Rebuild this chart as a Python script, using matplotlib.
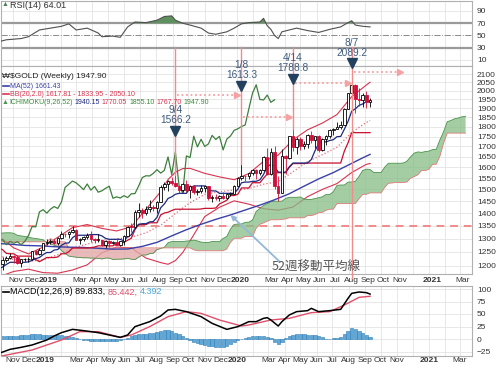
import numpy as np
import pandas as pd
import matplotlib
matplotlib.use('Agg')
import matplotlib.pyplot as plt
import matplotlib.dates as mdates
import matplotlib.transforms as mtransforms
from matplotlib.patches import Rectangle
from matplotlib.ticker import FixedLocator, NullLocator, NullFormatter

plt.rcParams['font.family'] = ['Liberation Sans', 'DejaVu Sans']

# weekly bars (week ending Friday) and the 26-week forward span of the cloud
weeks = pd.date_range('2018-10-05', periods=102, freq='7D')
cloud_weeks = pd.date_range('2018-10-05', periods=128, freq='7D')

opens = [1192, 1207, 1222, 1229, 1236, 1233, 1210, 1223, 1223, 1223,
         1252, 1241, 1258, 1283, 1286, 1290, 1283, 1303, 1318, 1317,
         1324, 1331, 1296, 1299, 1305, 1315, 1297, 1295, 1295, 1277,
         1289, 1282, 1288, 1277, 1289, 1311, 1346, 1345, 1405, 1414,
         1400, 1416, 1427, 1419, 1447, 1509, 1523, 1537, 1529, 1515,
         1499, 1524, 1497, 1513, 1488, 1494, 1505, 1514, 1462, 1468,
         1463, 1473, 1465, 1481, 1482, 1515, 1553, 1561, 1560, 1572,
         1589, 1573, 1586, 1649, 1567, 1673, 1516, 1485, 1654, 1646,
         1752, 1698, 1736, 1700, 1713, 1756, 1735, 1751, 1683, 1737,
         1753, 1782, 1790, 1802, 1810, 1897, 1986, 2035, 1950, 1947,
         1975, 1934]
highs = [1210, 1233, 1236, 1246, 1239, 1239, 1226, 1230, 1233, 1253,
         1256, 1264, 1285, 1300, 1298, 1297, 1304, 1327, 1322, 1327,
         1349, 1335, 1303, 1311, 1322, 1328, 1301, 1316, 1296, 1293,
         1293, 1292, 1303, 1290, 1313, 1349, 1362, 1411, 1442, 1420,
         1428, 1456, 1433, 1452, 1519, 1535, 1541, 1555, 1566.2, 1518,
         1527, 1541, 1520, 1519, 1500, 1518, 1520, 1516, 1476, 1480,
         1474, 1488, 1484, 1487, 1519, 1556, 1613.3, 1564, 1574, 1591,
         1592, 1590, 1654, 1691, 1692, 1704, 1560, 1690, 1660, 1753,
         1788.8, 1750, 1747, 1725, 1764, 1780, 1755, 1758, 1745, 1758,
         1788, 1796, 1827, 1829, 1904, 1986, 2089.2, 2040, 2015, 1985,
         2001, 1960]
lows = [1183, 1187, 1213, 1225, 1211, 1208, 1196, 1216, 1214, 1222,
        1238, 1240, 1257, 1276, 1281, 1280, 1276, 1300, 1304, 1302,
        1320, 1294, 1281, 1290, 1297, 1286, 1283, 1286, 1271, 1266,
        1268, 1278, 1275, 1273, 1276, 1310, 1325, 1341, 1385, 1381,
        1392, 1405, 1410, 1400, 1447, 1496, 1495, 1518, 1510, 1484,
        1491, 1488, 1465, 1481, 1476, 1483, 1490, 1456, 1446.2, 1456,
        1452, 1460, 1459, 1472, 1480, 1514, 1542, 1536, 1548, 1566,
        1548, 1565, 1584, 1565, 1566, 1504, 1450.9, 1484, 1568, 1641,
        1679, 1665, 1684, 1687, 1691, 1719, 1693, 1672, 1680, 1706,
        1744, 1760, 1787, 1791, 1808, 1896, 1966, 1874, 1911, 1909,
        1903, 1906]
closes = [1207, 1222, 1229, 1236, 1233, 1210, 1223, 1223, 1223, 1252,
          1241, 1258, 1283, 1286, 1290, 1283, 1303, 1318, 1317, 1324,
          1331, 1296, 1299, 1305, 1315, 1297, 1295, 1295, 1277, 1289,
          1282, 1288, 1277, 1289, 1311, 1346, 1345, 1405, 1414, 1400,
          1416, 1427, 1419, 1447, 1509, 1523, 1537, 1529, 1515, 1499,
          1524, 1497, 1513, 1488, 1494, 1505, 1514, 1462, 1468, 1463,
          1473, 1465, 1481, 1482, 1515, 1553, 1561, 1560, 1572, 1589,
          1573, 1586, 1649, 1567, 1673, 1516, 1485, 1654, 1646, 1752,
          1698, 1736, 1700, 1713, 1756, 1735, 1751, 1683, 1737, 1753,
          1782, 1790, 1802, 1810, 1897, 1986, 2035, 1950, 1947, 1975,
          1934, 1947.9]

# MA(52), read at a few weeks
ma_idx = [0, 3, 7, 11, 15, 19, 23, 27, 31, 35, 39, 43, 47, 51, 55, 59, 63, 67,
          71, 75, 79, 83, 87, 91, 95, 99, 101]
ma_val = [1281, 1278.8, 1274.1, 1272.6, 1269.5, 1267.7, 1266.5, 1263.5, 1260.4,
          1260.9, 1270.6, 1285.6, 1310.0, 1333.8, 1355.1, 1374.7, 1392.5, 1412.6,
          1432.9, 1455.5, 1481.2, 1514.1, 1546.8, 1575.6, 1609.9, 1644.7, 1661.43]

# Bollinger bands (20, 2.0)
bb_idx = [0, 4, 8, 12, 16, 20, 24, 28, 32, 36, 40, 44, 46, 48, 50, 52, 56, 60, 64,
          68, 72, 76, 80, 84, 88, 92, 96, 100, 101]
bb_mid = [1236, 1223, 1216, 1222, 1240, 1264, 1279, 1293, 1298, 1305, 1322, 1351,
          1375, 1398, 1421, 1443, 1479, 1490, 1497, 1504, 1523, 1535, 1579, 1627,
          1660, 1696, 1771, 1824, 1833.95]
bb_up = [1309, 1265, 1243, 1268, 1305, 1342, 1354, 1339, 1329, 1345, 1416, 1490,
         1544, 1577, 1594, 1595, 1572, 1556, 1543, 1571, 1628, 1658, 1733, 1785,
         1820, 1866, 1966, 2034, 2050.10]
bb_lo = [1163, 1181, 1189, 1177, 1175, 1186, 1204, 1247, 1268, 1265, 1228, 1212,
         1206, 1219, 1248, 1291, 1386, 1424, 1451, 1437, 1418, 1412, 1425, 1469,
         1500, 1526, 1576, 1614, 1617.81]

# Ichimoku (9, 26, 52)
tenkan = [1191, 1196.5, 1205.5, 1213, 1213, 1213, 1213, 1213, 1214.5, 1220,
          1226, 1230, 1240.5, 1248, 1248, 1257, 1259, 1274.5, 1282.5, 1283.5,
          1303, 1312.5, 1312.5, 1312.5, 1312.5, 1315, 1315, 1315, 1310, 1300.5,
          1297, 1297, 1297, 1297, 1291, 1307.5, 1314, 1338.5, 1355, 1357.5,
          1357.5, 1364.5, 1366, 1383, 1422, 1438, 1461, 1468, 1479, 1483,
          1483, 1483, 1505.5, 1515.5, 1515.5, 1515.5, 1515.5, 1498.5, 1493.5, 1493.5,
          1483, 1483, 1483, 1483, 1483, 1501, 1529.5, 1532.5, 1532.5, 1536,
          1536, 1542.5, 1567, 1602.5, 1614, 1604, 1577.5, 1577.5, 1577.5, 1602,
          1620, 1620, 1620, 1620, 1620, 1636.5, 1678.5, 1715, 1727, 1722.5,
          1730, 1734, 1749.5, 1750.5, 1788, 1829, 1884.5, 1897.5, 1916.5, 1924.5,
          1938, 1940.15]
kijun = [1264.5, 1258, 1245, 1243.5, 1243.5, 1235, 1235, 1235, 1235, 1234.5,
         1222.5, 1215, 1222.5, 1230, 1230, 1230, 1232, 1243.5, 1243.5, 1251,
         1264.5, 1264.5, 1264.5, 1264.5, 1264.5, 1266, 1268, 1272.5, 1272.5, 1272.5,
         1272.5, 1272.5, 1281.5, 1281.5, 1285.5, 1293.5, 1301, 1334, 1354, 1354,
         1354, 1361, 1361, 1361, 1392.5, 1400.5, 1403.5, 1410.5, 1416, 1416,
         1416, 1416, 1416, 1416, 1416, 1417, 1419.5, 1419.5, 1419.5, 1421,
         1438, 1445.5, 1453.5, 1473.5, 1473.5, 1479, 1506.5, 1506.5, 1506.5, 1530,
         1529.5, 1529.5, 1550, 1568.5, 1569, 1575, 1575, 1575, 1575, 1599.5,
         1617.5, 1617.5, 1617.5, 1617.5, 1620, 1620, 1620, 1620, 1620, 1620,
         1620, 1620, 1620, 1620, 1677.5, 1718.5, 1770, 1770, 1770, 1770,
         1770, 1770.05]
span_a = [1320, 1321, 1322, 1322, 1320, 1312, 1310, 1308, 1305, 1302,
          1300, 1298, 1295, 1285, 1280, 1275, 1270, 1255, 1245, 1235,
          1233, 1231, 1230, 1229, 1229, 1228, 1227.75, 1227, 1225, 1228,
          1228, 1223, 1224, 1224, 1225, 1227, 1224, 1222.5, 1231.5, 1239,
          1239, 1244, 1245.5, 1259, 1263, 1267, 1284, 1288.5, 1288.5, 1288.5,
          1288.5, 1290.5, 1291.5, 1294, 1291, 1286.5, 1285, 1285, 1289, 1289,
          1288, 1300.5, 1307.5, 1336, 1354.5, 1356, 1356, 1363, 1363.5, 1372,
          1407, 1419, 1432, 1439, 1447.5, 1449.5, 1449.5, 1449.5, 1461, 1466,
          1466, 1466, 1467.5, 1459, 1456.5, 1457, 1460.5, 1464, 1468, 1478,
          1478, 1490, 1518, 1519.5, 1519.5, 1532.5, 1533, 1536, 1558.5, 1585.5,
          1591.5, 1589.5, 1576, 1576, 1576, 1601, 1619, 1619, 1619, 1619,
          1620, 1628, 1649, 1667.5, 1673.5, 1671, 1675, 1677, 1685, 1685,
          1733, 1774, 1827, 1834, 1843, 1847, 1854, 1855.1]
span_b = [1287.5, 1287.5, 1287.5, 1287.5, 1287.5, 1287.5, 1287.5, 1287.5, 1287.5, 1287.5,
          1287.5, 1287.5, 1287.5, 1287.5, 1300, 1290.5, 1290.5, 1287.5, 1287.5, 1265,
          1265, 1265, 1265, 1265, 1265, 1265, 1265, 1265, 1265, 1265,
          1265, 1265, 1265, 1265, 1265, 1265, 1265, 1265, 1265, 1265,
          1265, 1265, 1265, 1265, 1265, 1265, 1265, 1265, 1265, 1265,
          1265, 1265, 1265, 1258, 1254.5, 1254.5, 1254.5, 1254.5, 1254.5, 1254.5,
          1254.5, 1254.5, 1261, 1285.5, 1301, 1301, 1301, 1308, 1308, 1308,
          1339.5, 1355, 1360.5, 1367.5, 1373, 1373, 1373, 1374.5, 1376.5, 1381,
          1381, 1381, 1381, 1381, 1390, 1390, 1394, 1402, 1403, 1411.5,
          1416, 1416, 1439.7, 1439.7, 1439.7, 1439.7, 1439.7, 1439.7, 1460, 1478.5,
          1479, 1485, 1485, 1485, 1485, 1509.5, 1527.4, 1528.4, 1531, 1531,
          1531, 1532.4, 1549.4, 1557, 1565, 1585, 1585, 1590.4, 1613.5, 1614.5,
          1652, 1716, 1767.7, 1767.7, 1767.7, 1767.7, 1767.7, 1767.7]

# RSI(14)
rsi_idx = [0, 2, 6, 8, 11, 14, 17, 19, 21, 24, 27, 28, 31, 33, 35, 37, 40, 43, 45, 47,
           48, 50, 52, 55, 57, 59, 62, 64, 66, 68, 71, 72, 73, 74, 75, 76, 77, 79, 81, 84,
           87, 90, 93, 95, 96, 97, 99, 101]
rsi_val = [40, 43, 45, 48, 59, 62, 65, 69, 59, 62, 54, 48, 49, 47, 64, 72, 71, 75, 81, 82,
           75, 70, 67, 62, 54, 52, 56, 62, 69, 71, 72, 78, 66, 60, 50, 45, 56, 59, 62, 58,
           55, 60, 64, 71, 74, 67, 65, 64.01]

# MACD(12, 26, 9)
macd_idx = [0, 3, 6, 9, 13, 15, 17, 20, 23, 27, 30, 33, 35, 37, 41, 44, 46, 48, 51, 55,
            58, 62, 65, 68, 70, 72, 73, 74, 76, 77, 79, 81, 84, 85, 87, 90, 93, 95, 96, 98,
            100, 101]
macd_val = [-28.7, -20.7, -16.7, -12, -2, 6, 12.7, 19.3, 16.7, 12.7, 8, 3.3, 8, 24.7,
            34.7, 46, 58, 59.3, 54.7, 44.7, 31.3, 19.3, 24.7, 34.7, 34.7, 41.3, 42.7, 38,
            26, 34.7, 48, 54.7, 56.7, 61.3, 54.7, 56.7, 59.3, 81.3, 91.3, 94, 92.7, 89.833]
sig_idx = [0, 9, 17, 22, 27, 33, 36, 41, 46, 51, 55, 60, 66, 68, 74, 79, 85, 90, 94, 98, 101]
sig_val = [-35, -22, -2, 14.7, 14.7, 3.3, 8, 24.7, 44.7, 54.7, 51.3, 38, 26, 28, 38, 41.3,
           52.7, 54.7, 68, 83.3, 85.442]
hist = [5, 6, 6, 6, 6, 7, 8, 8, 9, 10,
        10, 10, 9, 9, 9, 9, 9, 8, 7, 6,
        5, 3, 1, -1, -2, -3, -4, -4, -4, -4,
        -4, -4, -3, -2, 0, 3, 6, 9, 11, 11,
        11, 12, 13, 15, 17, 18, 18, 16, 13, 10,
        6, 2, -2, -5, -7, -9, -11, -13, -14, -15,
        -15, -15, -13, -10, -6, -2, 1, 3, 5, 6,
        6, 6, 7, 5, 3, -5, -10, -5, 2, 6,
        8, 10, 10, 10, 9, 9, 8, 6, 4, 1,
        1, 2, 3, 4, 10, 17, 22, 20, 17, 13,
        8, 4.392]

price_ticks = list(range(1200, 2101, 50))
tick_dates = ['2018-11-01', '2018-12-01', '2019-01-01', '2019-03-01', '2019-04-01',
              '2019-05-01', '2019-06-01', '2019-07-01', '2019-08-01', '2019-09-01',
              '2019-10-01', '2019-11-01', '2019-12-01', '2020-01-01', '2020-03-01',
              '2020-04-01', '2020-05-01', '2020-06-01', '2020-07-01', '2020-08-01',
              '2020-09-01', '2020-10-01', '2020-11-01', '2021-01-01', '2021-03-01']
tick_text = ['Nov', 'Dec', '2019', 'Mar', 'Apr', 'May', 'Jun', 'Jul', 'Aug', 'Sep',
             'Oct', 'Nov', 'Dec', '2020', 'Mar', 'Apr', 'May', 'Jun', 'Jul', 'Aug',
             'Sep', 'Oct', 'Nov', '2021', 'Mar']

# annotations: bar, date text, price text
marks = [(48, '9/4', '1566.2'), (66, '1/8', '1613.3'), (80, '4/14', '1788.8'), (96, '8/7', '2089.2')]

W, H = 500, 368
fig = plt.figure(figsize=(5, 3.68), dpi=100)


def rect(top, bottom):
    return [1 / W, 1 - bottom / H, 471 / W, (bottom - top) / H]


ax_rsi = fig.add_axes(rect(1, 66))
ax_px = fig.add_axes(rect(66, 274))
ax_macd = fig.add_axes(rect(286, 356))

wk = mdates.date2num(weeks.to_pydatetime())
cw = mdates.date2num(cloud_weeks.to_pydatetime())
xlim = (wk[0] + 3.75, wk[0] + 901.2)
months = mdates.date2num(pd.date_range('2018-11-01', '2021-03-01', freq='MS').to_pydatetime())
grid_c = '#e4e4e4'
offset = mtransforms.ScaledTranslation(3 / 100, 0, fig.dpi_scale_trans)

for ax in (ax_rsi, ax_px, ax_macd):
    ax.set_xlim(xlim)
    for m in months:
        ax.axvline(m, color=grid_c, lw=0.6, zorder=0)
    for s in ax.spines.values():
        s.set_color('#b0b0b0')
        s.set_linewidth(0.8)
    ax.yaxis.tick_right()
    ax.tick_params(axis='y', length=0, pad=3.5, labelsize=6, labelcolor='#333333')
    ax.tick_params(axis='x', length=0, labelsize=6, labelcolor='#333333', pad=2)
    ax.set_axisbelow(True)

for ax in (ax_px, ax_macd):
    ax.set_xticks(mdates.date2num(pd.to_datetime(tick_dates).to_pydatetime()))
    ax.set_xticklabels(tick_text)
    for lab in ax.get_xticklabels():
        lab.set_transform(lab.get_transform() + offset)
        if lab.get_text().isdigit():
            lab.set_fontweight('bold')
ax_rsi.set_xticks([])
ax_macd.tick_params(axis='x', pad=1)

# ---- RSI panel ----
ax_rsi.set_ylim(0.2, 106.3)
ax_rsi.set_yticks([10, 30, 50, 70, 90])
for v in (10, 90):
    ax_rsi.axhline(v, color=grid_c, lw=0.6, zorder=0)
ax_rsi.axhline(70, color='#9a9a9a', lw=1.6, zorder=1)
ax_rsi.axhline(30, color='#9a9a9a', lw=1.6, zorder=1)
ax_rsi.axhline(50, color='#8a8a8a', lw=0.7, ls='-.', zorder=1)
rx = wk[rsi_idx]
rv = np.array(rsi_val)
ax_rsi.fill_between(rx, rv, 70, where=rv > 70, interpolate=True, color='#5f915f', lw=0, zorder=2)
ax_rsi.plot(rx, rv, color='#505050', lw=0.8, zorder=3)

# ---- price panel ----
ax_px.set_yscale('log')
ax_px.set_ylim(1172.3, 2149.6)
ax_px.yaxis.set_major_locator(FixedLocator(price_ticks))
ax_px.yaxis.set_minor_locator(NullLocator())
ax_px.yaxis.set_minor_formatter(NullFormatter())
ax_px.set_yticklabels([str(v) for v in price_ticks])
for v in price_ticks:
    ax_px.axhline(v, color=grid_c, lw=0.6, zorder=0)

ax_px.axhline(1350, color='#f08a8a', lw=1.4, ls=(0, (4, 3)), zorder=2)

sa = np.array(span_a)
sb = np.array(span_b)
ax_px.fill_between(cw, sa, sb, where=sa >= sb, interpolate=True, color='#86bd86', alpha=0.75, lw=0, zorder=3)
ax_px.fill_between(cw, sa, sb, where=sa < sb, interpolate=True, color='#e3a9a9', alpha=0.8, lw=0, zorder=3)
ax_px.plot(cw, sa, color='#4c944c', lw=0.6, zorder=3)
ax_px.plot(cw, sb, color='#df7a7a', lw=0.6, zorder=3)

ax_px.plot(wk[bb_idx], bb_up, color='#d8344f', lw=0.8, zorder=2)
ax_px.plot(wk[bb_idx], bb_lo, color='#d8344f', lw=0.8, zorder=2)
ax_px.plot(wk[bb_idx], bb_mid, color='#e46a7c', lw=0.9, ls=':', zorder=2)
ax_px.plot(wk[ma_idx], ma_val, color='#3a40a8', lw=1.0, zorder=4)
ax_px.plot(wk[:76], closes[26:], color='#3d7f3d', lw=0.9, zorder=4)
ax_px.plot(wk, kijun, color='#c8102e', lw=0.9, zorder=5)
ax_px.plot(wk, tenkan, color='#1d2a80', lw=0.9, zorder=5)

for d, o, h, l, c in zip(wk, opens, highs, lows, closes):
    col = '#d0103a' if c < o else 'black'
    ax_px.vlines(d, l, h, color=col, lw=0.6, zorder=6)
    lo_b, hi_b = min(o, c), max(o, c)
    if hi_b - lo_b < 2:
        hi_b = lo_b + 2
    ax_px.add_patch(Rectangle((d - 2.4, lo_b), 4.8, hi_b - lo_b,
                              facecolor=col if c < o else 'white', edgecolor=col,
                              lw=0.6, zorder=7))

# ---- MACD panel ----
ax_macd.set_ylim(-34, 106)
ax_macd.set_yticks([-25, 0, 25, 50, 75, 100])
for v in (-25, 0, 25, 50, 75, 100):
    ax_macd.axhline(v, color=grid_c, lw=0.6, zorder=0)
ax_macd.bar(wk, hist, width=6.2, color='#62a8d6', edgecolor='#2f7db6', lw=0.4, zorder=2)
ax_macd.plot(wk[sig_idx], sig_val, color='#e0506a', lw=1.0, zorder=3)
ax_macd.plot(wk[macd_idx], macd_val, color='black', lw=1.1, zorder=4)

# ---- overlay in pixel coordinates ----
ov = fig.add_axes([0, 0, 1, 1], zorder=10)
ov.set_xlim(0, W)
ov.set_ylim(H, 0)
ov.axis('off')
ov.patch.set_alpha(0)


def xpix(d):
    return ax_px.transData.transform((d, 1500))[0]


def ypix(p):
    return H - ax_px.transData.transform((wk[0], p))[1]


ann_c = '#3e5c7e'
line_c = '#f08c8c'
arrow_c = '#f4a2a2'
label_y = {48: (110, 120, 130.5), 66: (65, 74.5, 86), 80: (58, 68, 79), 96: (43, 53.5, 63)}
for bar, dtxt, ptxt in marks:
    x = xpix(wk[bar])
    y_end = 278 if bar == 96 else ypix(highs[bar])
    ov.plot([x, x], [47, y_end], color=line_c, lw=1.0, zorder=1)
    yd, yp, yt = label_y[bar]
    ov.text(x, yd, dtxt, color=ann_c, fontsize=7.3, ha='center', va='center', zorder=3)
    ov.text(x, yp, ptxt, color=ann_c, fontsize=7.3, ha='center', va='center', zorder=3)
    ov.plot(x, yt, marker='v', ms=7, color='#23405f', zorder=4)

spans = [(95, xpix(wk[48]) + 2, xpix(wk[66]) - 2),
         (117, xpix(wk[66]) + 2, xpix(wk[80]) - 2),
         (83, xpix(wk[80]) + 2, xpix(wk[96]) - 2),
         (72, xpix(wk[96]) + 2, xpix(cw[110]) - 1)]
for y, x1, x2 in spans:
    ov.plot([x1, x2 - 3], [y, y], color=arrow_c, lw=1.3, ls=(0, (1, 1.5)), zorder=2)
    ov.plot(x2 - 2, y, marker='>', ms=4, color=arrow_c, zorder=2)

tip = (xpix(wk[63]), ypix(ma_val[16]))
ov.annotate('', xy=tip, xytext=(280, 262),
            arrowprops=dict(arrowstyle='-|>', color='#94b8d8', lw=1.3, mutation_scale=7,
                            shrinkA=0, shrinkB=0))
ov.text(316, 267, '52週移動平均線', fontsize=9, color='#555555',
        family=['Noto Sans CJK JP', 'DejaVu Sans'], ha='center', va='center')

rend = fig.canvas.get_renderer()


def row(x, y, parts, size, gap=2.5):
    for s, c in parts:
        t = ov.text(x, y, s, color=c, fontsize=size, ha='left', va='center')
        x = t.get_window_extent(renderer=rend).x1 + gap


ov.text(2, 5, '▲', color='#4e7f4e', fontsize=5, va='center')
row(10, 5, [('RSI(14) 64.01', '#333333')], 6.5)

ov.text(1.5, 76.5, '₩', color='#222222', fontsize=6, va='center')
row(10, 76.5, [('$GOLD (Weekly) 1947.90', '#222222')], 6)
ov.plot([3, 9], [86, 86], color='#3a40a8', lw=1.2)
row(10, 86, [('MA(52) 1661.43', '#3a40a8')], 5)
ov.plot([3, 9], [94, 94], color='#d8344f', lw=1.2)
row(10, 94, [('BB(20,2.0) 1617.81 - 1833.95 - 2050.10', '#d8344f')], 5)
ov.text(2, 102, '▲', color='#4c944c', fontsize=5, va='center')
row(9, 102, [('ICHIMOKU(9,26,52)', '#3c8a3c'), ('1940.15', '#1d2a80'),
             ('1770.05', '#d8344f'), ('1855.10', '#3c8a3c'), ('1767.70', '#d8344f'),
             ('1947.90', '#3c8a3c')], 5, gap=2)
ov.plot([3, 9], [292, 292], color='black', lw=1.2)
row(10, 292, [('MACD(12,26,9) 89.833,', 'black'), ('85.442,', '#e0506a'),
              ('4.392', '#4aa8d8')], 6.5)

fig.savefig('out.png', dpi=100)
